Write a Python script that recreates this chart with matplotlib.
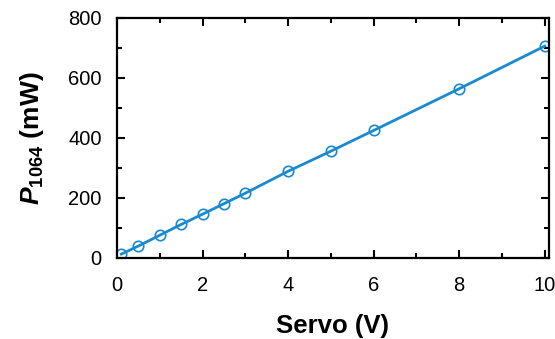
import matplotlib
matplotlib.use("Agg")
import matplotlib.pyplot as plt
from matplotlib.ticker import MultipleLocator

plt.rcParams['font.family'] = ['Liberation Sans', 'DejaVu Sans']
plt.rcParams['mathtext.fontset'] = 'custom'
plt.rcParams['mathtext.rm'] = 'Liberation Sans'
plt.rcParams['mathtext.bf'] = 'Liberation Sans:bold'
plt.rcParams['mathtext.bfit'] = 'Liberation Sans:italic:bold'
plt.rcParams['mathtext.it'] = 'Liberation Sans:italic'

servo = [0.1, 0.5, 1.0, 1.5, 2.0, 2.5, 3.0, 4.0, 5.0, 6.0, 8.0, 10.0]
power = [13, 40, 76, 112, 146, 181, 216, 289, 356, 425, 564, 706]

color = '#1a8ad0'

fig = plt.figure(figsize=(5.55, 3.39), dpi=100)
ax = fig.add_axes([0.211, 0.239, 0.778, 0.708])
ax.plot(servo, power, color=color, lw=2.0, marker='o', ms=7.5,
        mfc='none', mec=color, mew=1.2)
ax.set_xlim(0, 10.1)
ax.set_ylim(0, 800)
ax.xaxis.set_major_locator(MultipleLocator(2))
ax.xaxis.set_minor_locator(MultipleLocator(1))
ax.yaxis.set_major_locator(MultipleLocator(200))
ax.yaxis.set_minor_locator(MultipleLocator(100))
for s in ax.spines.values():
    s.set_linewidth(1.6)
ax.tick_params(which='both', direction='in', top=True, right=True, width=1.5,
               labelsize=14.5)
ax.tick_params(axis='x', which='major', pad=13)
ax.tick_params(axis='y', which='major', pad=11)
ax.tick_params(which='major', length=6)
ax.tick_params(which='minor', length=3.5)
ax.set_xlabel('Servo (V)', fontsize=18.5, fontweight='bold', labelpad=14)
ax.set_ylabel(r'$\mathbfit{P}_{\mathbf{1064}}$ (mW)', fontsize=19, fontweight='bold', labelpad=16)
fig.savefig('out.png', dpi=100)
